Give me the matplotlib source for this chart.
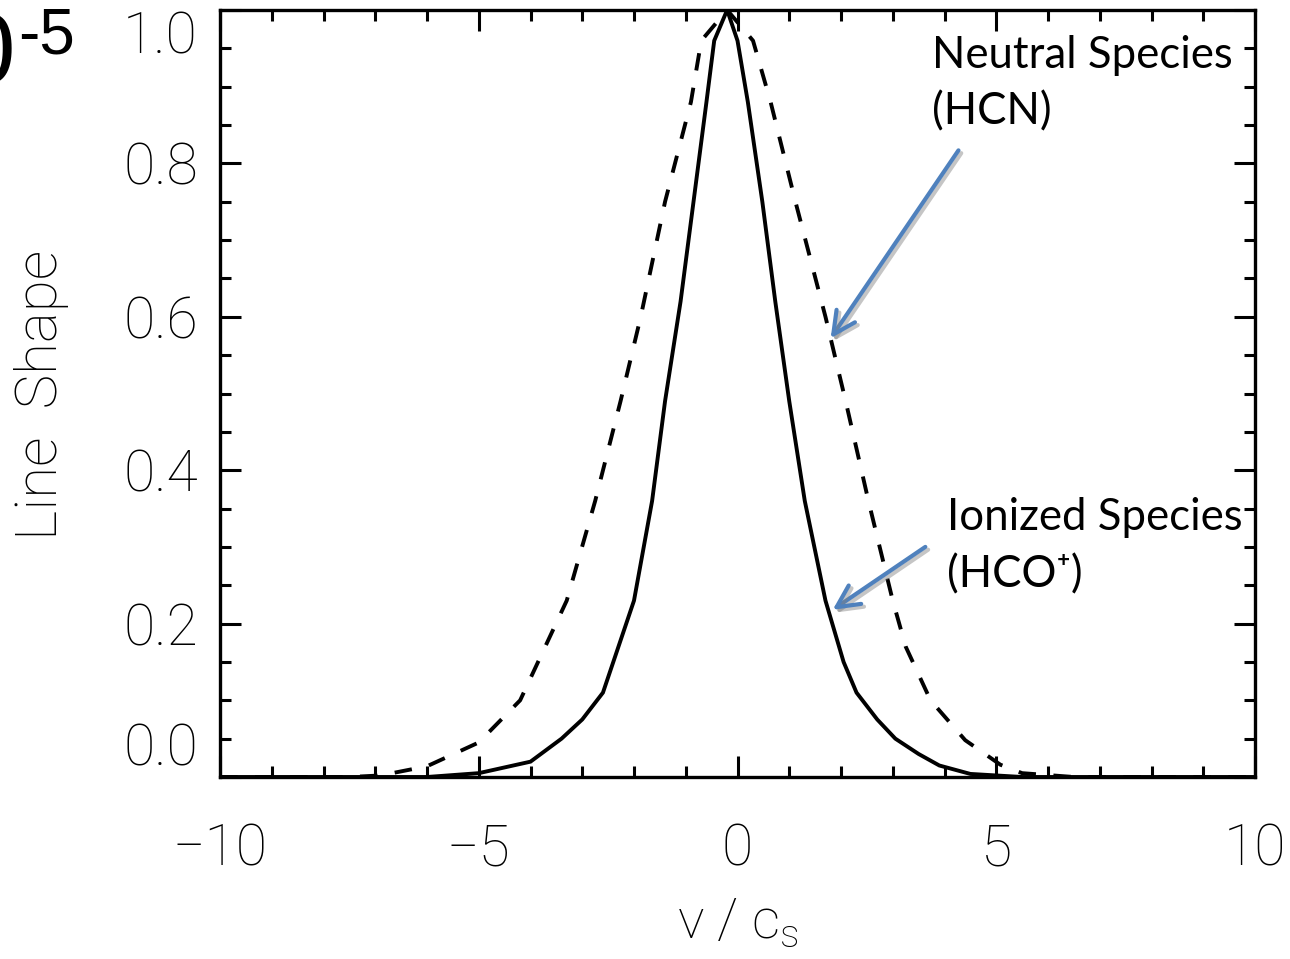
import matplotlib
matplotlib.use("Agg")
import matplotlib.pyplot as plt
import matplotlib.patheffects as pe
from matplotlib.ticker import MultipleLocator

# ionized species (HCO+) line shape - solid
ion_x = [-10.0, -6.0, -5.0, -4.0, -3.4, -3.0, -2.6, -2.3, -2.0, -1.65, -1.4, -1.1,
         -0.85, -0.6, -0.45, -0.2, 0.0, 0.2, 0.48, 0.73, 1.0, 1.3, 1.7, 2.05, 2.3,
         2.7, 3.05, 3.5, 3.9, 4.5, 5.5, 10.0]
ion_y = [0.0, 0.0, 0.005, 0.02, 0.05, 0.075, 0.11, 0.17, 0.23, 0.36, 0.49, 0.62,
         0.75, 0.88, 0.96, 1.0, 0.96, 0.88, 0.75, 0.62, 0.49, 0.36, 0.23, 0.15, 0.11,
         0.075, 0.05, 0.03, 0.015, 0.004, 0.0, 0.0]

# neutral species (HCN) line shape - dashed
neu_x = [-10.0, -7.5, -6.9, -6.0, -5.0, -4.2, -3.3, -2.75, -2.26, -1.87, -1.4, -0.9,
         -0.7, -0.2, 0.3, 0.64, 1.12, 1.7, 2.09, 2.53, 3.0, 3.25, 3.73, 4.4, 5.08,
         5.5, 6.5, 10.0]
neu_y = [0.0, 0.0, 0.002, 0.014, 0.045, 0.10, 0.23, 0.36, 0.49, 0.60, 0.75, 0.88,
         0.96, 1.0, 0.96, 0.88, 0.75, 0.60, 0.49, 0.36, 0.23, 0.17, 0.10, 0.048, 0.016,
         0.005, 0.0, 0.0]

x_ticks = [-10, -5, 0, 5, 10]
y_ticks = [0.0, 0.2, 0.4, 0.6, 0.8, 1.0]

plt.rcParams['font.family'] = ['Roboto', 'DejaVu Sans']
plt.rcParams['mathtext.fontset'] = 'custom'
plt.rcParams['mathtext.rm'] = 'Roboto:light'

fig = plt.figure(figsize=(12.9, 9.59), dpi=100)
ax = fig.add_axes([220 / 1290, 1 - 777 / 959, 1035 / 1290, 767 / 959])

ax.plot(ion_x, ion_y, color='black', lw=2.8, solid_joinstyle='miter')
ax.plot(neu_x, neu_y, color='black', lw=2.8, linestyle=(0, (4.5, 4.5)))

ax.set_xlim(-10, 10)
ax.set_ylim(0, 1.0)

ax.set_xticks(x_ticks)
ax.set_xticklabels([f"{t:d}".replace('-', '\u2212') for t in x_ticks],
                   fontsize=41, fontweight='light')
ax.set_yticks(y_ticks)
ax.set_yticklabels([f"{t:.1f}" for t in y_ticks], fontsize=41, fontweight='light')
ax.xaxis.set_minor_locator(MultipleLocator(1))
ax.yaxis.set_minor_locator(MultipleLocator(0.05))

ax.tick_params(which='both', direction='in', top=True, right=True, width=2.2,
               color='black')
ax.tick_params(which='major', length=15)
ax.tick_params(which='minor', length=8)
ax.tick_params(axis='x', which='major', pad=33)
ax.tick_params(axis='y', which='major', pad=16)
for sp in ax.spines.values():
    sp.set_linewidth(2.4)

# keep end labels inside the box like the original
ylabels = ax.get_yticklabels()
ylabels[0].set_va('bottom')
ylabels[-1].set_va('top')

ax.set_xlabel(r"v / c$_\mathrm{s}$", fontsize=40, fontweight='light')
ax.xaxis.set_label_coords(0.5, -0.19)
ax.xaxis.label.set_va('center')
ax.set_ylabel("Line  Shape", fontsize=42, fontweight='light')
ax.yaxis.set_label_coords(-0.172, 0.498)
ax.yaxis.label.set_va('center')

blue = '#4F81BD'
shadow = [pe.SimpleLineShadow(offset=(2, -2), shadow_color='gray', alpha=0.45),
          pe.Normal()]
ax.annotate('', xy=(1.80, 0.572), xytext=(4.27, 0.817),
            arrowprops=dict(arrowstyle='->', lw=3, color=blue, mutation_scale=40,
                            shrinkA=0, shrinkB=0, path_effects=shadow))
ax.annotate('', xy=(1.84, 0.218), xytext=(3.63, 0.30),
            arrowprops=dict(arrowstyle='->', lw=3, color=blue, mutation_scale=40,
                            shrinkA=0, shrinkB=0, path_effects=shadow))

ann_font = ['Lato', 'DejaVu Sans']
fig.text(932 / 1290, 1 - 55 / 959, "Neutral Species", fontsize=31.5, family=ann_font,
         va='center', ha='left')
fig.text(932 / 1290, 1 - 112 / 959, "(HCN)", fontsize=31.5, family=ann_font,
         va='center', ha='left')
fig.text(947 / 1290, 1 - 517 / 959, "Ionized Species", fontsize=31.5, family=ann_font,
         va='center', ha='left')
fig.text(947 / 1290, 1 - 575 / 959, "(HCO\u207A)", fontsize=31.5, family=ann_font,
         va='center', ha='left')

# fragment of neighbouring panel title
fig.text(15 / 1290, 1 - 83 / 959, "0", fontsize=72, family='Liberation Sans',
         ha='right', va='baseline')
fig.text(18 / 1290, 1 - 53 / 959, "-5", fontsize=46, family='Liberation Sans',
         ha='left', va='baseline')

fig.savefig('out.png', dpi=100)
